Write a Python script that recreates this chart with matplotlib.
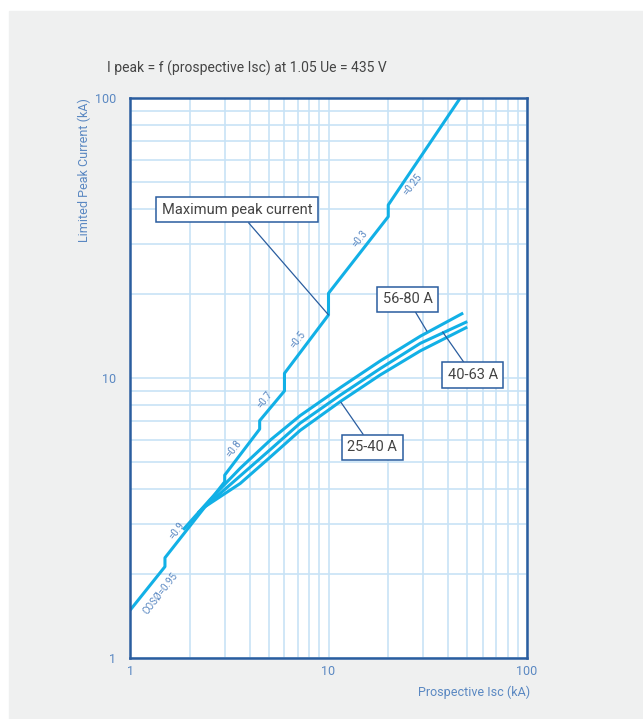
import matplotlib.pyplot as plt
from matplotlib.patches import Rectangle

plt.rcParams['font.family'] = ['Roboto', 'DejaVu Sans']

# maximum peak current (cos phi steps)
max_x = [1, 1.5, 1.5, 3, 3, 4.5, 4.5, 6, 6, 10, 10, 20, 20, 46.1]
max_y = [1.48, 2.12, 2.28, 4.26, 4.50, 6.57, 7.04, 8.99, 10.39, 16.8, 20.07, 37.7, 41.5, 100]

# limited peak current curves per rating
c5680_x = [1.85, 2.53, 3.59, 5.09, 7.2, 11.5, 18.2, 29, 47.7]
c5680_y = [2.87, 3.68, 4.76, 6.00, 7.34, 9.25, 11.5, 14.1, 17.06]
c4063_x = [2.2, 3.59, 5.09, 7.2, 11.5, 18.2, 29, 50]
c4063_y = [3.30, 4.47, 5.55, 6.90, 8.70, 10.8, 13.3, 15.9]
c2540_x = [2.4, 3.59, 5.09, 7.2, 11.5, 18.2, 29, 50]
c2540_y = [3.48, 4.20, 5.22, 6.50, 8.25, 10.25, 12.5, 15.2]

cos_labels = ['COSØ=0.95', '=0.9', '=0.8', '=0.7', '=0.5', '=0.3', '=0.25']
cos_x = [1.42, 1.72, 3.32, 4.80, 6.98, 14.3, 26.6]
cos_y = [1.70, 2.85, 5.61, 8.35, 13.75, 31.5, 48.9]

box_labels = ['Maximum peak current', '56-80 A', '40-63 A', '25-40 A']
box_xy = [(10, 16.8), (31.3, 14.7), (37.6, 14.6), (11.55, 8.19)]
box_text = [(3.47, 39.9), (25.1, 19.1), (53.3, 10.25), (16.6, 5.65)]

xticks = [1, 10, 100]
yticks = [1, 10, 100]

line_c = '#12b0e6'
dark = '#2a5d9f'
tick_c = '#5a88c2'
text_c = '#444444'

fig = plt.figure(figsize=(6.43, 7.19), dpi=100, facecolor='white')
fig.add_artist(Rectangle((9 / 643, 0), 1, 1 - 11 / 719, transform=fig.transFigure,
                         color='#eff0f0', zorder=-10))

ax = fig.add_axes([130 / 643, 1 - 658 / 719, 397 / 643, 560 / 719])
ax.set_facecolor('white')
ax.set_xscale('log')
ax.set_yscale('log')
ax.set_xlim(1, 100)
ax.set_ylim(1, 100)

ax.grid(which='both', color='#c8e3f6', linewidth=1.2)
ax.set_axisbelow(True)
for s in ax.spines.values():
    s.set_color(dark)
    s.set_linewidth(1.8)

ax.set_xticks(xticks)
ax.set_xticklabels([str(t) for t in xticks])
ax.set_yticks(yticks)
ax.set_yticklabels([str(t) for t in yticks])
ax.tick_params(which='both', length=0, labelsize=9, labelcolor=tick_c)
ax.tick_params(axis='y', pad=10)
ax.tick_params(axis='x', pad=5)
ax.minorticks_on()
ax.tick_params(which='minor', length=0, labelleft=False, labelbottom=False)

kw = dict(color=line_c, linewidth=2.2, solid_joinstyle='round', solid_capstyle='butt')
ax.plot(max_x, max_y, **kw)
ax.plot(c5680_x, c5680_y, **kw)
ax.plot(c4063_x, c4063_y, **kw)
ax.plot(c2540_x, c2540_y, **kw)

for lab, x, y in zip(cos_labels, cos_x, cos_y):
    ax.text(x, y, lab, rotation=52, rotation_mode='anchor', ha='center', va='center',
            fontsize=7, color=tick_c)

for lab, xy, xt in zip(box_labels, box_xy, box_text):
    ax.annotate(lab, xy=xy, xytext=xt, ha='center', va='center', fontsize=10.5,
                color=text_c,
                bbox=dict(boxstyle='square,pad=0.38', fc='white', ec=dark, lw=1.1),
                arrowprops=dict(arrowstyle='-', color=dark, lw=0.9, shrinkA=0, shrinkB=0))

fig.text(107 / 643, 1 - 68 / 719, 'I peak = f (prospective Isc) at 1.05 Ue = 435 V',
         ha='left', va='center', fontsize=10, color=text_c)
fig.text(84 / 643, 1 - 98 / 719, 'Limited Peak Current (kA)', rotation=90,
         ha='center', va='top', fontsize=9, color=tick_c)
fig.text(530 / 643, 1 - 692 / 719, 'Prospective Isc (kA)', ha='right', va='center',
         fontsize=9, color=tick_c)

fig.savefig('out.png', dpi=100, facecolor=fig.get_facecolor())
